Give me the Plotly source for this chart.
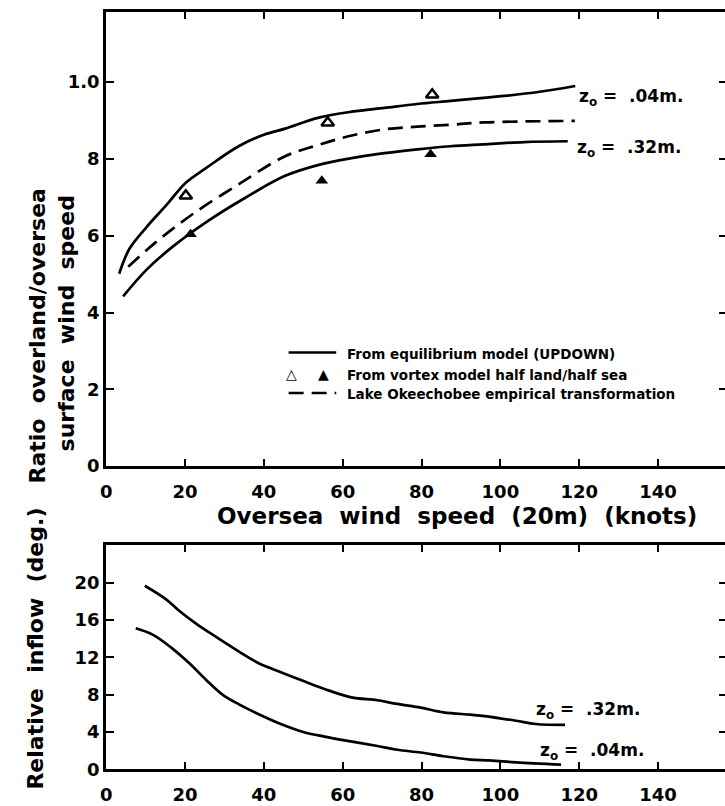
import plotly.graph_objects as go

W, H = 725, 806
FONT = "DejaVu Sans"

# ---------------- data: top panel (ratio) ----------------
x_z004 = [3.3, 5.9, 10.2, 15.2, 20.2, 25.3, 33.6, 40.0, 45.4, 53.7, 62.3, 70.6, 78.9, 87.4, 95.7, 101.0, 110.0, 119.0]
y_z004 = [0.501, 0.566, 0.622, 0.679, 0.738, 0.776, 0.833, 0.863, 0.879, 0.907, 0.923, 0.933, 0.943, 0.951, 0.959, 0.964, 0.975, 0.990]

x_z032 = [4.3, 10.2, 16.8, 25.3, 35.3, 45.4, 53.7, 62.3, 70.6, 78.9, 87.4, 95.7, 106.0, 117.1]
y_z032 = [0.442, 0.511, 0.571, 0.635, 0.699, 0.756, 0.784, 0.802, 0.815, 0.825, 0.833, 0.838, 0.844, 0.846]

x_lake = [5.6, 12.7, 21.9, 33.6, 45.4, 53.7, 62.3, 70.6, 78.9, 87.4, 95.7, 118.9]
y_lake = [0.519, 0.584, 0.656, 0.734, 0.807, 0.836, 0.861, 0.877, 0.884, 0.889, 0.895, 0.899]

x_open_tri = [20.2, 56.2, 82.7]
y_open_tri = [0.704, 0.894, 0.967]
x_fill_tri = [21.4, 54.7, 82.3]
y_fill_tri = [0.604, 0.743, 0.812]

# ---------------- data: bottom panel (inflow) ----------------
x_in032 = [9.8, 15.2, 18.6, 22.8, 27.8, 33.7, 38.7, 43.7, 50.4, 55.4, 62.2, 68.8, 73.8, 79.8, 85.6, 92.4, 96.0, 104.0, 109.0, 116.4]
y_in032 = [19.65, 18.2, 16.95, 15.6, 14.2, 12.6, 11.35, 10.5, 9.4, 8.6, 7.7, 7.4, 7.0, 6.6, 6.1, 5.85, 5.7, 5.2, 4.85, 4.75]

x_in004 = [7.5, 11.9, 16.9, 21.1, 25.3, 29.5, 33.7, 38.7, 44.6, 50.4, 55.4, 60.5, 68.8, 73.8, 79.8, 85.6, 92.4, 97.0, 104.0, 115.4]
y_in004 = [15.1, 14.4, 12.9, 11.35, 9.6, 8.0, 6.95, 5.9, 4.8, 3.95, 3.5, 3.1, 2.5, 2.1, 1.8, 1.4, 1.05, 0.95, 0.75, 0.5]

# ---------------- ticks ----------------
x_ticks = [0, 20, 40, 60, 80, 100, 120, 140]
ratio_ticks = [0, 0.2, 0.4, 0.6, 0.8, 1.0]
ratio_ticktext = ["0", "2", "4", "6", "8", "1.0"]
inflow_ticks = [0, 4, 8, 12, 16, 20]

def px(x):
    return x / W

def py(y):
    return 1 - y / H

line_style = dict(color="black", width=2.7, shape="spline", smoothing=1.0)

fig = go.Figure()
fig.add_trace(go.Scatter(x=x_z004, y=y_z004, mode="lines", line=line_style, xaxis="x", yaxis="y"))
fig.add_trace(go.Scatter(x=x_z032, y=y_z032, mode="lines", line=line_style, xaxis="x", yaxis="y"))
fig.add_trace(go.Scatter(x=x_lake, y=y_lake, mode="lines",
                         line=dict(color="black", width=2.7, dash="15px,8px", shape="spline", smoothing=1.0),
                         xaxis="x", yaxis="y"))
fig.add_trace(go.Scatter(x=x_open_tri, y=y_open_tri, mode="markers",
                         marker=dict(symbol="triangle-up-open", size=11, color="black", line=dict(width=2.5)),
                         xaxis="x", yaxis="y"))
fig.add_trace(go.Scatter(x=x_fill_tri, y=y_fill_tri, mode="markers",
                         marker=dict(symbol="triangle-up", size=11, color="black"),
                         xaxis="x", yaxis="y"))
fig.add_trace(go.Scatter(x=x_in032, y=y_in032, mode="lines", line=line_style, xaxis="x2", yaxis="y2"))
fig.add_trace(go.Scatter(x=x_in004, y=y_in004, mode="lines", line=line_style, xaxis="x2", yaxis="y2"))
# empty traces so the right-hand tick axes are drawn
fig.add_trace(go.Scatter(x=[], y=[], xaxis="x", yaxis="y3", hoverinfo="skip"))
fig.add_trace(go.Scatter(x=[], y=[], xaxis="x2", yaxis="y4", hoverinfo="skip"))

x_dom = [px(101), 1.0]
x_rng = [0, (W - 101) / 3.975]
top_dom = [py(472), py(12)]
bot_dom = [py(779), py(552)]

tickfont = dict(family=FONT, size=18, color="black", weight="bold")
common_x = dict(domain=x_dom, range=x_rng, tickvals=x_ticks, ticks="inside", ticklen=7, tickwidth=2,
                tickcolor="black", showline=True, linewidth=3, linecolor="black", mirror="ticks",
                showgrid=False, zeroline=False, tickfont=tickfont, ticklabelstandoff=7)
common_y = dict(ticks="inside", ticklen=8, tickwidth=2, tickcolor="black", showline=True, linewidth=3,
                linecolor="black", showgrid=False, zeroline=False, tickfont=tickfont)

fig.update_layout(
    width=W, height=H,
    margin=dict(l=0, r=0, t=0, b=0),
    paper_bgcolor="white", plot_bgcolor="white",
    showlegend=False,
    xaxis=dict(anchor="y", **common_x),
    yaxis=dict(anchor="x", domain=top_dom, range=[0, 1.183], tickvals=ratio_ticks,
               ticktext=ratio_ticktext, **common_y),
    xaxis2=dict(anchor="y2", **common_x),
    yaxis2=dict(anchor="x2", domain=bot_dom, range=[0, 24], tickvals=inflow_ticks, **common_y),
    yaxis3=dict(overlaying="y", side="right", anchor="x", range=[0, 1.183], tickvals=ratio_ticks,
                ticks="inside", ticklen=6, tickwidth=2, tickcolor="black", showticklabels=False,
                showline=False, showgrid=False, zeroline=False),
    yaxis4=dict(overlaying="y2", side="right", anchor="x2", range=[0, 24], tickvals=inflow_ticks,
                ticks="inside", ticklen=6, tickwidth=2, tickcolor="black", showticklabels=False,
                showline=False, showgrid=False, zeroline=False),
)

NB = "\u00a0"
title_font = dict(family=FONT, size=22, color="black", weight="bold")
ann = []
ann.append(dict(text=f"Ratio{NB}{NB}overland/oversea", x=px(32), y=py(340), xref="paper", yref="paper",
                textangle=-90, showarrow=False, font=title_font, xanchor="center", yanchor="middle"))
ann.append(dict(text=f"surface{NB}{NB}wind{NB}{NB}speed", x=px(61), y=py(327), xref="paper", yref="paper",
                textangle=-90, showarrow=False, font=title_font, xanchor="center", yanchor="middle"))
ann.append(dict(text=f"Relative{NB}{NB}inflow{NB}{NB}(deg.)", x=px(30), y=py(657), xref="paper", yref="paper",
                textangle=-90, showarrow=False, font=title_font, xanchor="center", yanchor="middle"))
ann.append(dict(text=f"Oversea{NB}{NB}wind{NB}{NB}speed{NB}{NB}(20m){NB}{NB}(knots)", x=px(455), y=py(522),
                xref="paper", yref="paper", showarrow=False,
                font=dict(family=FONT, size=23, color="black", weight="bold"),
                xanchor="center", yanchor="middle"))

lab_font = dict(family=FONT, size=17, color="black", weight="bold")
def zlabel(val):
    return f"z<sub>o</sub>{NB}={NB}{NB}{val}"
ann.append(dict(text=zlabel(".04m."), x=px(576), y=py(99), xref="paper", yref="paper", showarrow=False,
                font=lab_font, xanchor="left", yanchor="middle"))
ann.append(dict(text=zlabel(".32m."), x=px(574), y=py(150), xref="paper", yref="paper", showarrow=False,
                font=lab_font, xanchor="left", yanchor="middle"))
ann.append(dict(text=zlabel(".32m."), x=px(532), y=py(719), xref="paper", yref="paper", showarrow=False,
                font=lab_font, xanchor="left", yanchor="middle"))
ann.append(dict(text=zlabel(".04m."), x=px(536), y=py(761), xref="paper", yref="paper", showarrow=False,
                font=lab_font, xanchor="left", yanchor="middle"))

leg_font = dict(family=FONT, size=13.5, color="black", weight="bold")
leg_rows = [(358, "From equilibrium model (UPDOWN)"),
            (380, "From vortex model half land/half sea"),
            (399, "Lake Okeechobee empirical transformation")]
for yy, txt in leg_rows:
    ann.append(dict(text=txt, x=px(342), y=py(yy), xref="paper", yref="paper", showarrow=False,
                    font=leg_font, xanchor="left", yanchor="middle"))
ann.append(dict(text="\u25b3", x=px(288), y=py(379), xref="paper", yref="paper", showarrow=False,
                font=dict(family=FONT, size=14, color="black", weight="bold"), xanchor="center", yanchor="middle"))
ann.append(dict(text="\u25b2", x=px(320), y=py(379), xref="paper", yref="paper", showarrow=False,
                font=dict(family=FONT, size=14, color="black"), xanchor="center", yanchor="middle"))

shapes = [
    dict(type="line", xref="paper", yref="paper", x0=px(285), x1=px(333), y0=py(357), y1=py(357),
         line=dict(color="black", width=2.5)),
    dict(type="line", xref="paper", yref="paper", x0=px(285), x1=px(333), y0=py(398), y1=py(398),
         line=dict(color="black", width=2.5, dash="15px,8px")),
]
fig.update_layout(annotations=ann, shapes=shapes)

fig.write_html("out.html", config={"displayModeBar": False},
               post_script="document.body.style.margin='0';document.body.style.overflow='hidden';")
